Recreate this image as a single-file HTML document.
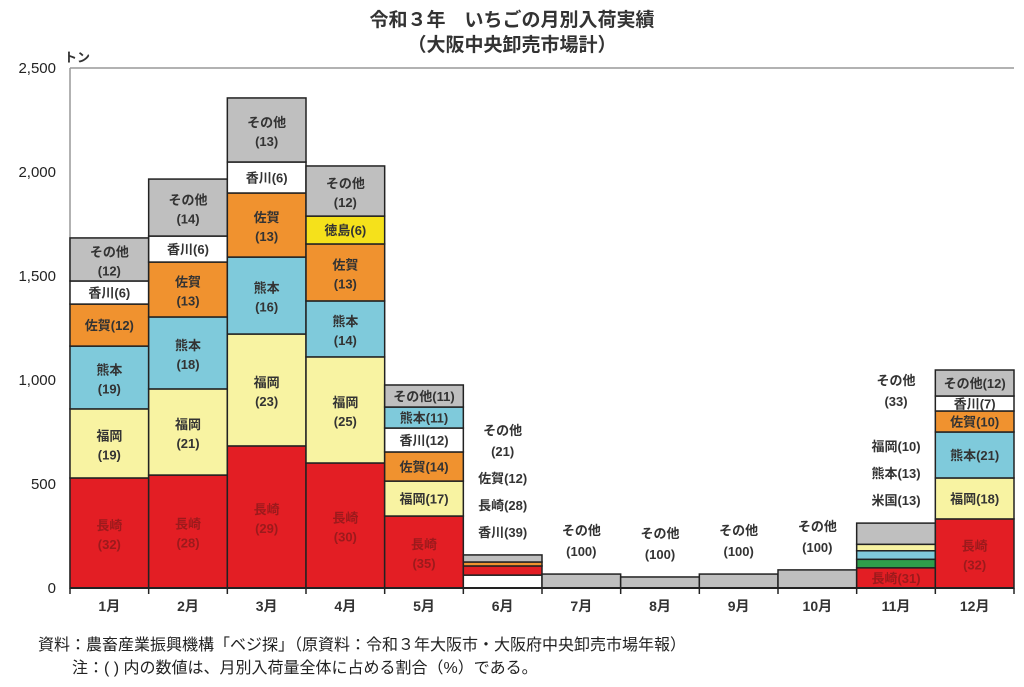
<!DOCTYPE html>
<html><head><meta charset="utf-8"><style>
body{margin:0;background:#fff;}
svg{display:block;font-family:"Liberation Sans","Noto Sans CJK JP",sans-serif;}
</style></head><body>
<svg id="c" width="1024" height="687"></svg>
<script>
const months=["1月","2月","3月","4月","5月","6月","7月","8月","9月","10月","11月","12月"];
const nagasaki=[529,543,683,601,346,44,0,0,0,0,97,332];
const fukuoka=[332,414,538,510,168,0,0,0,0,0,31,197];
const kumamoto=[302,346,370,269,101,0,0,0,0,0,41,221];
const saga=[202,264,308,274,140,19,0,0,0,0,0,101];
const kagawa=[111,125,149,0,115,62,0,0,0,0,0,72];
const tokushima=[0,0,0,134,0,0,0,0,0,0,0,0];
const beikoku=[0,0,0,0,0,0,0,0,0,0,41,0];
const sonota=[207,274,308,241,106,34,67,53,67,87,102,125];
const pNagasaki=[32,28,29,30,35,28,0,0,0,0,31,32];
const pFukuoka=[19,21,23,25,17,0,0,0,0,0,10,18];
const pKumamoto=[19,18,16,14,11,0,0,0,0,0,13,21];
const pSaga=[12,13,13,13,14,12,0,0,0,0,0,10];
const pKagawa=[6,6,6,0,12,39,0,0,0,0,0,7];
const pTokushima=[0,0,0,6,0,0,0,0,0,0,0,0];
const pBeikoku=[0,0,0,0,0,0,0,0,0,0,13,0];
const pSonota=[12,14,13,12,11,21,100,100,100,100,33,12];
const yTicks=[0,500,1000,1500,2000,2500];
const yTickLabels=["0","500","1,000","1,500","2,000","2,500"];

const series={
 nagasaki:{v:nagasaki,p:pNagasaki,name:"長崎",color:"#e31e24"},
 fukuoka:{v:fukuoka,p:pFukuoka,name:"福岡",color:"#f8f3a2"},
 kumamoto:{v:kumamoto,p:pKumamoto,name:"熊本",color:"#7fcadb"},
 saga:{v:saga,p:pSaga,name:"佐賀",color:"#f0922f"},
 kagawa:{v:kagawa,p:pKagawa,name:"香川",color:"#ffffff"},
 tokushima:{v:tokushima,p:pTokushima,name:"徳島",color:"#f5e11b"},
 beikoku:{v:beikoku,p:pBeikoku,name:"米国",color:"#2f9e4b"},
 sonota:{v:sonota,p:pSonota,name:"その他",color:"#bfbfbf"}
};
const defOrder=["nagasaki","fukuoka","kumamoto","saga","kagawa","tokushima","beikoku","sonota"];
const orders={4:["nagasaki","fukuoka","saga","kagawa","kumamoto","sonota"],5:["kagawa","nagasaki","saga","sonota"],10:["nagasaki","beikoku","kumamoto","fukuoka","sonota"]};
const outside=[5,6,7,8,9,10];

const X0=70,X1=1014,Y0=588,YT=68,VMAX=2500;
const bw=(X1-X0)/months.length;
const y=v=>Y0-(v/VMAX)*(Y0-YT);
const xs=i=>X0+i*bw;
const svg=document.getElementById('c');
const NS="http://www.w3.org/2000/svg";
function mk(t,a,txt){const e=document.createElementNS(NS,t);for(const k in a)e.setAttribute(k,a[k]);if(txt!==undefined)e.textContent=txt;svg.appendChild(e);return e;}
function txt(x,yy,s,o){o=o||{};return mk('text',{x:x,y:yy,'text-anchor':o.anchor||'middle','font-size':o.size||13,'font-weight':o.w||'bold',fill:o.fill||'#333'},s);}

let t=txt(512,26,"令和３年　いちごの月別入荷実績",{size:19});

t=txt(512,51,"（大阪中央卸売市場計）",{size:19});

t=txt(64,62,"トン",{anchor:'start',size:13});


yTicks.forEach((v,i)=>{const e=txt(56,y(v)+5,yTickLabels[i],{anchor:'end',size:15,w:'normal',fill:'#222'});
});
let ln=mk('line',{x1:X0,y1:YT,x2:X1,y2:YT,stroke:'#999','stroke-width':1.5});

ln=mk('line',{x1:X0,y1:YT,x2:X0,y2:Y0,stroke:'#999','stroke-width':1.5});


months.forEach((m,i)=>{
 const order=orders[i]||defOrder;
 let cum=0;const segs=[];
 order.forEach(k=>{const s=series[k];const v=s.v[i];if(!v)return;
  const r=mk('rect',{x:xs(i),y:y(cum+v),width:bw,height:y(cum)-y(cum+v),fill:s.color,stroke:'#222','stroke-width':1.5});
  
  
  segs.push({k:k,s:s,lo:cum,hi:cum+v});cum+=v;});
 const cx=xs(i)+bw/2;
 if(outside.includes(i)){
  let yy=y(cum)-18;
  segs.forEach(g=>{
   if(i===10&&g.k==='nagasaki'){const e=txt(cx,y(g.hi/2)+5,"長崎("+g.s.p[i]+")",{fill:'#9c1a1c'});return;}
   if(g.k==='sonota'){
    if(i===10)yy-=18;
    let e=txt(cx,yy,"("+g.s.p[i]+")");
    e=txt(cx,yy-21,"その他");
   }else{const e=txt(cx,yy,g.s.name+"("+g.s.p[i]+")");yy-=27;}
  });
 }else{
  segs.forEach(g=>{
   const h=y(g.lo)-y(g.hi),my=(y(g.lo)+y(g.hi))/2;
   const fill=g.k==='nagasaki'?'#9c1a1c':'#333';
   const two=(g.k==='nagasaki')||(h>=48)||(g.k==='sonota'&&i<4);
   if(two){let e=txt(cx,my-3,g.s.name,{fill:fill});
    e=txt(cx,my+16,"("+g.s.p[i]+")",{fill:fill});}
   else{const e=txt(cx,my+5,g.s.name+"("+g.s.p[i]+")",{fill:fill});}
  });
 }
 const e=txt(cx,611,m,{size:14});
 const tk=mk('line',{x1:xs(i),y1:Y0,x2:xs(i),y2:Y0+6,stroke:'#222','stroke-width':1.5});
 
});
const tk=mk('line',{x1:X1,y1:Y0,x2:X1,y2:Y0+6,stroke:'#222','stroke-width':1.5});

ln=mk('line',{x1:X0,y1:Y0,x2:X1,y2:Y0,stroke:'#222','stroke-width':2});

t=txt(38,650,"資料：農畜産業振興機構「ベジ探」（原資料：令和３年大阪市・大阪府中央卸売市場年報）",{anchor:'start',size:16,w:'normal',fill:'#222'});

t=txt(72,673,"注：( ) 内の数値は、月別入荷量全体に占める割合（%）である。",{anchor:'start',size:16,w:'normal',fill:'#222'});

</script>
</body></html>
